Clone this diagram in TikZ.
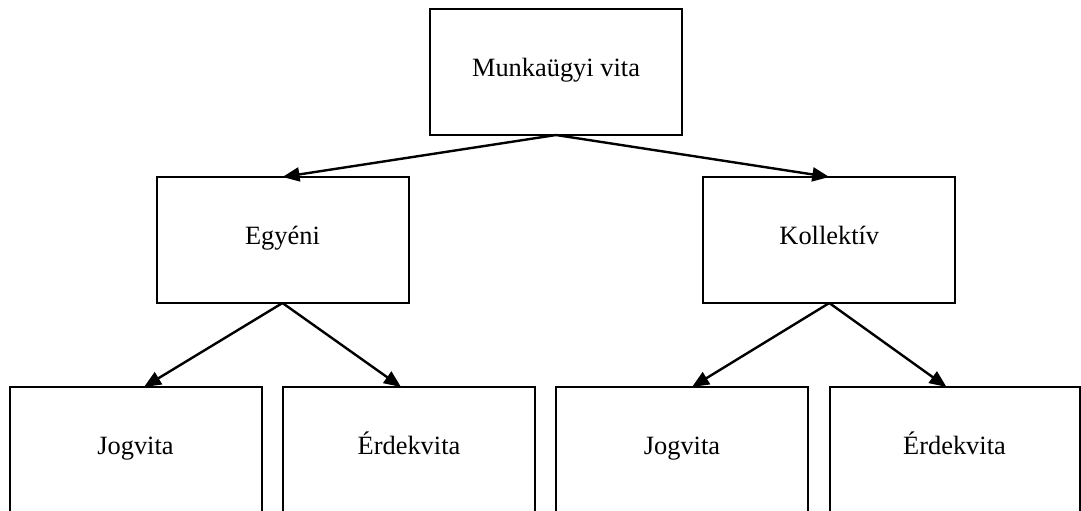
\documentclass[tikz,border=0pt]{standalone}
\usepackage{fontspec}
\setmainfont{Liberation Serif}
\usetikzlibrary{arrows.meta}
\begin{document}
\begin{tikzpicture}[x=1pt,y=-1pt,
  box/.style={draw=black, line width=2pt, fill=white, inner sep=0pt, outer sep=0pt,
    text height=67pt, text depth=59pt, minimum width=252pt,
    font=\fontsize{26.4}{30}\selectfont},
  arr/.style={line width=2.4pt, -{Triangle[length=17pt,width=14pt]}}]
\useasboundingbox (0,0) rectangle (1081,511);
\clip (0,0) rectangle (1081,511);
\fill[white] (0,0) rectangle (1081,511);
\node[box] (top) at (556,72) {Munkaügyi vita};
\node[box] (egy) at (282.5,240) {Egyéni};
\node[box] (kol) at (829.3,240) {Kollektív};
\node[box] (j1) at (135.5,450) {Jogvita};
\node[box] (e1) at (409,450) {Érdekvita};
\node[box] (j2) at (682,450) {Jogvita};
\node[box, minimum width=250pt] (e2) at (954.5,450) {Érdekvita};
\draw[arr] (top.south) -- (egy.north);
\draw[arr] (top.south) -- (kol.north);
\draw[arr] (egy.south) -- ([xshift=8.5pt]j1.north);
\draw[arr] (egy.south) -- ([xshift=-8pt]e1.north);
\draw[arr] (kol.south) -- ([xshift=10pt]j2.north);
\draw[arr] (kol.south) -- ([xshift=-8pt]e2.north);
\end{tikzpicture}
\end{document}
